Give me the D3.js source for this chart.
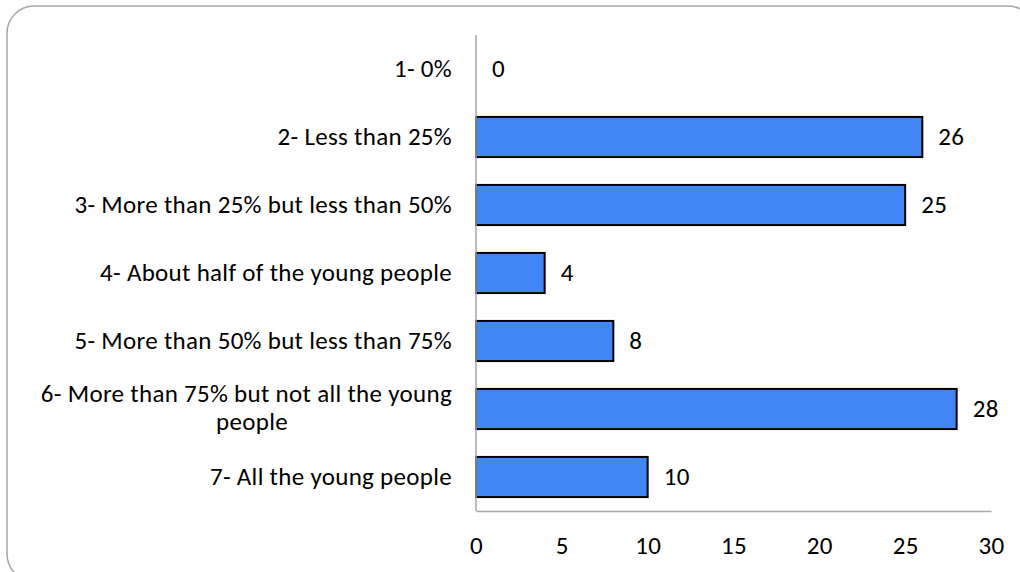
<!DOCTYPE html>
<html>
<head>
<meta charset="utf-8">
<script src="https://cdn.jsdelivr.net/npm/d3@7"></script>
<style>
  html, body { margin: 0; padding: 0; background: #fff; }
  svg { display: block; }
  text { font-family: Carlito, Calibri, Lato, "Open Sans", sans-serif; fill: #000; letter-spacing: 0.3px; }
</style>
</head>
<body>
<svg id="chart" width="1020" height="572"></svg>
<script>
// Survey answers: share of young people, with response counts
const categories = [
  "1- 0%",
  "2- Less than 25%",
  "3- More than 25% but less than 50%",
  "4- About half of the young people",
  "5- More than 50% but less than 75%",
  "6- More than 75% but not all the young people",
  "7- All the young people"
];
const counts = [0, 26, 25, 4, 8, 28, 10];
const xTicks = [0, 5, 10, 15, 20, 25, 30];

const svg = d3.select("#chart");
const W = 1020, H = 572;
const margin = { left: 476, right: 29, top: 35, bottom: 61 };
const fontSize = 25;

// rounded chart frame (runs past the right and bottom edges)
svg.append("rect")
  .attr("x", 7).attr("y", 6)
  .attr("width", 1028).attr("height", 575)
  .attr("rx", 27).attr("ry", 27)
  .attr("fill", "#fff")
  .attr("stroke", "#a6a6a6")
  .attr("stroke-width", 1.5);

const x = d3.scaleLinear()
  .domain([0, 30])
  .range([margin.left, W - margin.right]);

const y = d3.scaleBand()
  .domain(categories)
  .range([margin.top, H - margin.bottom])
  .paddingInner(0.41)
  .paddingOuter(0.205);

// bars
svg.append("g").selectAll("rect")
  .data(categories)
  .join("rect")
  .attr("x", x(0))
  .attr("y", d => y(d))
  .attr("width", (d, i) => x(counts[i]) - x(0))
  .attr("height", y.bandwidth())
  .attr("fill", "#4285f4")
  .attr("stroke", "#000")
  .attr("stroke-width", 2)
  .attr("display", (d, i) => counts[i] > 0 ? null : "none");

// value labels
svg.append("g").selectAll("text")
  .data(categories)
  .join("text")
  .attr("x", (d, i) => x(counts[i]) + 16)
  .attr("y", d => y(d) + y.bandwidth() / 2)
  .attr("dy", "0.33em")
  .attr("font-size", fontSize)
  .text((d, i) => counts[i]);

// x axis
const xAxis = svg.append("g")
  .attr("transform", `translate(0,${H - margin.bottom})`)
  .call(d3.axisBottom(x).tickValues(xTicks).tickSize(0).tickPadding(0));
xAxis.select(".domain").attr("stroke", "#a6a6a6").attr("stroke-width", 1.5);
xAxis.selectAll(".tick text")
  .attr("font-size", fontSize)
  .attr("font-family", "Carlito, Calibri, Lato, 'Open Sans', sans-serif")
  .attr("y", 43)
  .attr("dy", 0);

// y axis line
svg.append("line")
  .attr("x1", x(0)).attr("x2", x(0))
  .attr("y1", margin.top).attr("y2", H - margin.bottom)
  .attr("stroke", "#a6a6a6")
  .attr("stroke-width", 1.5);

// category labels, the long one wrapped onto two lines
const labelX = 452;
const wrapAt = "6- More than 75% but not all the young people";
const labels = svg.append("g");
categories.forEach(c => {
  const cy = y(c) + y.bandwidth() / 2;
  if (c === wrapAt) {
    labels.append("text")
      .attr("x", labelX).attr("y", cy - 7)
      .attr("text-anchor", "end").attr("font-size", fontSize)
      .text("6- More than 75% but not all the young");
    labels.append("text")
      .attr("x", 252).attr("y", cy + 21)
      .attr("text-anchor", "middle").attr("font-size", fontSize)
      .text("people");
  } else {
    labels.append("text")
      .attr("x", labelX).attr("y", cy).attr("dy", "0.33em")
      .attr("text-anchor", "end").attr("font-size", fontSize)
      .text(c);
  }
});
</script>
</body>
</html>
